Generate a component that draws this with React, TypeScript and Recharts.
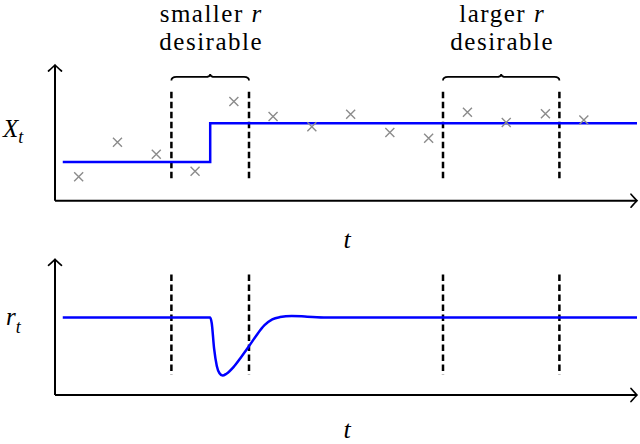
import React from 'react';
import {
  ComposedChart,
  Line,
  Scatter,
  XAxis,
  YAxis,
  ReferenceLine,
  ReferenceArea,
  Label,
} from 'recharts';

const FONT = "'Liberation Serif', 'Times New Roman', serif";
const BLUE = '#0000ff';

// time axis (shared by both panels)
const T_DOMAIN: [number, number] = [0, 15];
const V_DOMAIN: [number, number] = [0, 3.5];

// observations X_t (grey crosses)
const obsT = [0.61, 1.61, 2.61, 3.61, 4.61, 5.62, 6.62, 7.62, 8.63, 9.63, 10.63, 11.63, 12.64, 13.63];
const obsX = [0.62, 1.51, 1.2, 0.76, 2.56, 2.17, 1.91, 2.23, 1.76, 1.61, 2.28, 2.02, 2.24, 2.08];

// underlying level (step)
const levelT = [0.2, 4.0, 15];
const levelX = [1, 2, 2];

// r_t response
const rateT = [0.2, 4.0, 4.04, 4.1, 4.17, 4.24, 4.32, 4.42, 4.6, 4.8, 5.0, 5.2, 5.4, 5.6, 5.8, 6.1, 6.5, 7.0, 15];
const rateR = [2.0, 2.0, 1.85, 1.2, 0.75, 0.56, 0.5, 0.55, 0.72, 0.98, 1.26, 1.55, 1.8, 1.95, 2.01, 2.04, 2.02, 2.0, 2.0];

// dashed markers + braces
const dashT = [3, 5, 10, 13];
const dashTopSpan = [2.81, 0.52];
const dashBottomSpan = [3.11, 0.52];
const braceFrom = [3, 10];
const braceTo = [5, 13];
const braceWord = ['smaller', 'larger'];
const braceSpan = [3.1, 3.27];

const obsData = obsT.map((t, i) => ({ t, v: obsX[i] }));
const levelData = levelT.map((t, i) => ({ t, v: levelX[i] }));
const rateData = rateT.map((t, i) => ({ t, v: rateR[i] }));

const txt = (size: number, italic = false): React.CSSProperties => ({
  fontFamily: FONT,
  fontSize: size,
  fontStyle: italic ? 'italic' : 'normal',
});

const arrowDefs = (id: string) => (
  <defs>
    <marker
      id={id}
      viewBox="-10 -10 20 20"
      refX={0}
      refY={0}
      markerWidth={20}
      markerHeight={20}
      markerUnits="userSpaceOnUse"
      orient="auto-start-reverse"
    >
      <path d="M -6 -6.5 Q -1.5 -1.5 0 0 Q -1.5 1.5 -6 6.5" fill="none" stroke="#000" strokeWidth={1.7} strokeLinecap="round" />
    </marker>
  </defs>
);

const crossShape = (p: any) => {
  const { cx, cy } = p;
  const s = 4.5;
  return (
    <path
      d={`M ${cx - s} ${cy - s} L ${cx + s} ${cy + s} M ${cx + s} ${cy - s} L ${cx - s} ${cy + s}`}
      stroke="#8c8c8c"
      strokeWidth={1.4}
      fill="none"
    />
  );
};

const braceShape = (word: string) => (p: any) => {
  const { x, y, width, height } = p;
  const x2 = x + width;
  const cx = x + width / 2;
  const yb = y + height;
  const ym = y + height * 0.45;
  const r = 5;
  const d = `M ${x} ${yb} Q ${x} ${ym} ${x + r} ${ym} L ${cx - r} ${ym} Q ${cx} ${ym} ${cx} ${y} Q ${cx} ${ym} ${cx + r} ${ym} L ${x2 - r} ${ym} Q ${x2} ${ym} ${x2} ${yb}`;
  return (
    <g>
      <path d={d} fill="none" stroke="#000" strokeWidth={1.8} />
      <text x={cx + 1} y={y - 52.3} textAnchor="middle" style={{ ...txt(25), letterSpacing: 1.5 }} fill="#000">
        {word} <tspan style={txt(25, true)}>r</tspan>
      </text>
      <text x={cx + 1} y={y - 24} textAnchor="middle" style={{ ...txt(25), letterSpacing: 1.5 }} fill="#000">
        desirable
      </text>
    </g>
  );
};

const yLabel = (main: string, left: number, size: number, baseDy: number, subDy: number) => (p: any) => {
  const vb = p.viewBox || {};
  const cy = vb.y + vb.height / 2;
  return (
    <text x={left} y={cy + baseDy} style={txt(size, true)} fill="#000">
      {main}
      <tspan y={cy + subDy} style={txt(18, true)}>t</tspan>
    </text>
  );
};

const xLabel = (dy: number) => (p: any) => {
  const vb = p.viewBox || {};
  return (
    <text x={vb.x + vb.width / 2 + 1} y={vb.y + dy} textAnchor="middle" style={txt(26, true)} fill="#000">
      t
    </text>
  );
};

const xAxisLine = (id: string) => ({ stroke: '#000', strokeWidth: 2, markerEnd: `url(#${id})` });
const yAxisLine = (id: string) => ({ stroke: '#000', strokeWidth: 2, markerStart: `url(#${id})` });

export default function App() {
  return (
    <div style={{ position: 'absolute', left: 0, top: 0, width: 640, height: 444, background: '#fff' }}>
      <ComposedChart width={640} height={256} margin={{ top: 65, right: 3, bottom: 0, left: 0 }}>
        {arrowDefs('arrTop')}
        <XAxis
          dataKey="t"
          type="number"
          domain={T_DOMAIN}
          allowDataOverflow
          tick={false}
          tickLine={false}
          height={55.3}
          axisLine={xAxisLine('arrTop')}
        >
          <Label content={xLabel(47.5)} />
        </XAxis>
        <YAxis
          type="number"
          domain={V_DOMAIN}
          allowDataOverflow
          tick={false}
          tickLine={false}
          width={55}
          axisLine={yAxisLine('arrTop')}
        >
          <Label content={yLabel('X', 3, 25, 4.5, 10)} />
        </YAxis>
        {dashT.map((t) => (
          <ReferenceLine
            key={`d${t}`}
            segment={[{ x: t, y: dashTopSpan[0] }, { x: t, y: dashTopSpan[1] }]}
            stroke="#000"
            strokeWidth={2.5}
            strokeDasharray="6.5 3.5"
          />
        ))}
        {braceFrom.map((t, i) => (
          <ReferenceArea
            key={`b${t}`}
            x1={t}
            x2={braceTo[i]}
            y1={braceSpan[0]}
            y2={braceSpan[1]}
            shape={braceShape(braceWord[i])}
          />
        ))}
        <Line
          data={levelData}
          dataKey="v"
          type="stepAfter"
          stroke={BLUE}
          strokeWidth={2.5}
          dot={false}
          activeDot={false}
          isAnimationActive={false}
        />
        <Scatter data={obsData} dataKey="v" shape={crossShape} isAnimationActive={false} />
      </ComposedChart>
      <ComposedChart width={640} height={188} margin={{ top: 3.3, right: 3, bottom: 0, left: 0 }}>
        {arrowDefs('arrBot')}
        <XAxis
          dataKey="t"
          type="number"
          domain={T_DOMAIN}
          allowDataOverflow
          tick={false}
          tickLine={false}
          height={49}
          axisLine={xAxisLine('arrBot')}
        >
          <Label content={xLabel(42.5)} />
        </XAxis>
        <YAxis
          type="number"
          domain={V_DOMAIN}
          allowDataOverflow
          tick={false}
          tickLine={false}
          width={55}
          axisLine={yAxisLine('arrBot')}
        >
          <Label content={yLabel('r', 6, 25, -2, 6)} />
        </YAxis>
        {dashT.map((t) => (
          <ReferenceLine
            key={`d${t}`}
            segment={[{ x: t, y: dashBottomSpan[0] }, { x: t, y: dashBottomSpan[1] }]}
            stroke="#000"
            strokeWidth={2.5}
            strokeDasharray="6.5 3.5"
          />
        ))}
        <Line
          data={rateData}
          dataKey="v"
          type="monotone"
          stroke={BLUE}
          strokeWidth={2.5}
          dot={false}
          activeDot={false}
          isAnimationActive={false}
        />
      </ComposedChart>
    </div>
  );
}
